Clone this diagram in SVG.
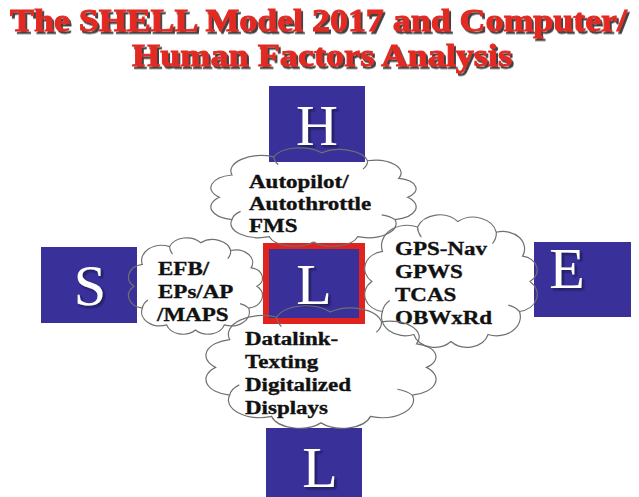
<svg xmlns="http://www.w3.org/2000/svg" width="639" height="497" viewBox="0 0 639 497">
<style>
.title{font-family:"Liberation Serif",serif;font-weight:bold;font-size:30.5px;fill:#e22a22;stroke:#e22a22;stroke-width:0.9;filter:url(#tshadow)}
.box{fill:#3a309a}
.let{font-family:"Liberation Serif",serif;font-size:58px;fill:#ffffff;text-anchor:middle;filter:url(#lshadow)}
.ct{font-family:"Liberation Serif",serif;font-weight:bold;font-size:19.5px;fill:#111111;stroke:#111111;stroke-width:0.35}
.cl{fill:none;stroke:#707070;stroke-width:1.2}
</style>
<defs>
<filter id="tshadow" x="-5%" y="-20%" width="110%" height="150%">
<feDropShadow dx="2" dy="2.5" stdDeviation="0.7" flood-color="#2e2e2e" flood-opacity="0.9"/>
</filter>
<filter id="lshadow" x="-20%" y="-20%" width="140%" height="140%">
<feDropShadow dx="2" dy="2" stdDeviation="0.8" flood-color="#120e38" flood-opacity="0.7"/>
</filter>
<path id="cloud" vector-effect="non-scaling-stroke" d="M90,50 A11,11 0 0 1 84.64,69 A12,12 0 0 1 68.78,83.55 A11,11 0 0 1 50,88 A11,11 0 0 1 31.22,83.55 A12,12 0 0 1 15.36,69 A11,11 0 0 1 10,50 A11,11 0 0 1 15.36,31 A13,13 0 0 1 33.1,15.56 A12,12 0 0 1 53.49,12.14 A12,12 0 0 1 72.94,18.87 A11,11 0 0 1 86.25,33.94 A9,9 0 0 1 90,50 Z M15.36,69 A11,11 0 0 1 19,62 M72.94,18.87 A12,12 0 0 1 71,26 M84.64,69 A11,11 0 0 0 79,65 M33.1,15.56 A13,13 0 0 0 35,22"/>
</defs>
<g id="title">
<text class="title" x="10" y="31" textLength="617" lengthAdjust="spacingAndGlyphs">The SHELL Model 2017 and Computer/</text>
<text class="title" x="132" y="66" textLength="380" lengthAdjust="spacingAndGlyphs">Human Factors Analysis</text>
</g>
<g id="node-H">
<rect class="box" x="269" y="86" width="96" height="76"/>
<text class="let" x="317" y="145">H</text>
</g>
<g id="node-S">
<rect class="box" x="41" y="247" width="96" height="76"/>
<text class="let" x="90" y="305">S</text>
</g>
<g id="node-L-center">
<rect class="box" x="266" y="246" width="96" height="75" stroke="#e0231c" stroke-width="6"/>
<text class="let" x="314" y="304">L</text>
</g>
<g id="node-E">
<rect class="box" x="534" y="242" width="97" height="75"/>
<text class="let" x="567" y="288">E</text>
</g>
<g id="node-L-bottom">
<rect class="box" x="266" y="428" width="96" height="75"/>
<text class="let" x="320" y="487">L</text>
</g>
<g id="cloud-top">
<use href="#cloud" class="cl" transform="translate(195.9,138.6) scale(2.352,1.174)"/>
<text class="ct" transform="translate(249,188) scale(1.18,1)">Autopilot/</text>
<text class="ct" transform="translate(249,210) scale(1.18,1)">Autothrottle</text>
<text class="ct" transform="translate(249,232) scale(1.18,1)">FMS</text>
</g>
<g id="cloud-left">
<use href="#cloud" class="cl" transform="translate(118.8,228.8) scale(1.534,1.15)"/>
<text class="ct" transform="translate(158,275) scale(1.18,1)">EFB/</text>
<text class="ct" transform="translate(158,298) scale(1.18,1)">EPs/AP</text>
<text class="ct" transform="translate(157,321) scale(1.18,1)">/MAPS</text>
</g>
<g id="cloud-right">
<use href="#cloud" class="cl" transform="translate(352.1,202.4) scale(1.977,1.581)"/>
<text class="ct" transform="translate(395,255) scale(1.18,1)">GPS-Nav</text>
<text class="ct" transform="translate(395,278) scale(1.18,1)">GPWS</text>
<text class="ct" transform="translate(395,301) scale(1.18,1)">TCAS</text>
<text class="ct" transform="translate(395,324) scale(1.18,1)">OBWxRd</text>
</g>
<g id="cloud-bottom">
<use href="#cloud" class="cl" transform="translate(189.2,294.3) scale(2.636,1.461)"/>
<text class="ct" transform="translate(245,345) scale(1.18,1)">Datalink-</text>
<text class="ct" transform="translate(245,368) scale(1.18,1)">Texting</text>
<text class="ct" transform="translate(245,391) scale(1.18,1)">Digitalized</text>
<text class="ct" transform="translate(245,414) scale(1.18,1)">Displays</text>
</g>
<g id="connectors"/>
</svg>
